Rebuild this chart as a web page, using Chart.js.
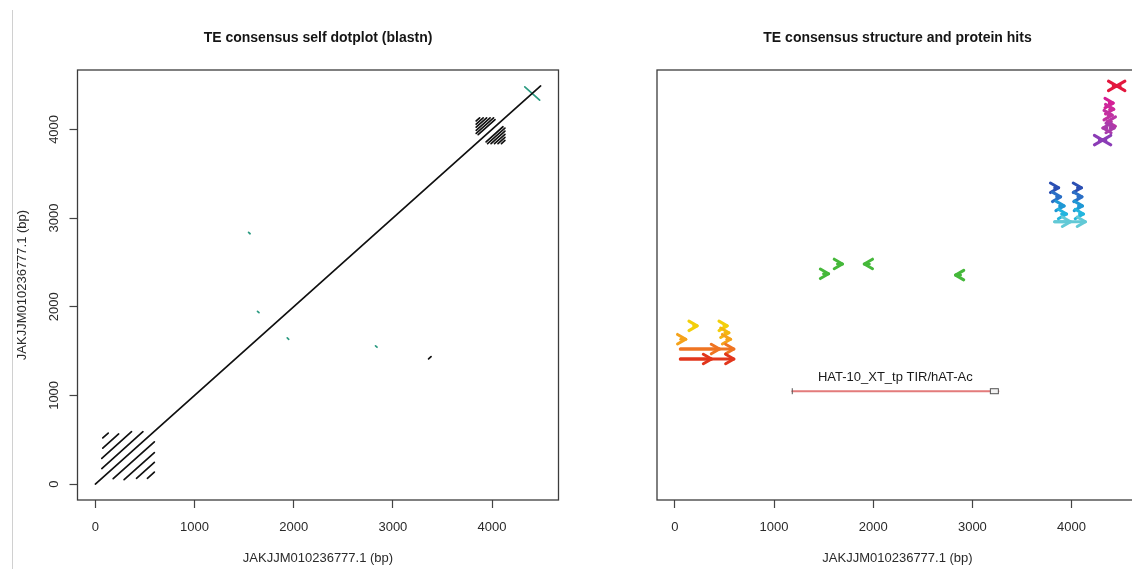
<!DOCTYPE html>
<html>
<head>
<meta charset="utf-8">
<script src="https://cdn.jsdelivr.net/npm/chart.js@4.4.1/dist/chart.umd.min.js"></script>
<style>
  html, body { margin: 0; padding: 0; background: #fff; overflow: hidden; }
  body { width: 1132px; height: 569px; position: relative; }
  #edge { position: absolute; left: 12px; top: 10px; width: 1px; height: 559px; background: #d0d0d0; }
  .panel { position: absolute; top: 0; height: 569px; }
  #left { left: 0; width: 566px; }
  #right { left: 566px; width: 620px; }
</style>
</head>
<body>
<div id="edge"></div>
<div class="panel" id="left"><canvas id="chartDot"></canvas></div>
<div class="panel" id="right"><canvas id="chartStruct"></canvas></div>
<script>
var xTicks = [0, 1000, 2000, 3000, 4000];
var yTicks = [0, 1000, 2000, 3000, 4000];
var axisMin = -180, axisMax = 4670;
var seqLabel = 'JAKJJM010236777.1 (bp)';

// blastn self hits, same strand: [qstart, qend, sstart, send]
var directHits = [
    [0, 4490, 0, 4490],
    [65, 480, 175, 590], [65, 365, 290, 590], [75, 235, 405, 565], [75, 130, 520, 575],
    [180, 595, 60, 475], [290, 595, 50, 355], [415, 595, 65, 245], [525, 595, 65, 135],
    [3860, 4030, 3940, 4110], [3840, 4015, 3955, 4130], [3840, 3980, 3990, 4130],
    [3840, 3945, 4025, 4130], [3840, 3910, 4060, 4130], [3840, 3875, 4095, 4130],
    [3940, 4110, 3860, 4030], [3955, 4130, 3840, 4015], [3990, 4130, 3840, 3980],
    [4025, 4130, 3840, 3945], [4060, 4130, 3840, 3910], [4095, 4130, 3840, 3875],
    [3360, 3385, 1412, 1437]
];
// blastn self hits, opposite strand
var reverseHits = [
    [4330, 4480, 4480, 4330],
    [1545, 1560, 2838, 2823], [1635, 1650, 1948, 1933],
    [1935, 1950, 1648, 1633], [2825, 2840, 1558, 1543]
];

// structure panel: repeat arrows [from, to, track]
var arrowHits = [
    [190, 225, 40.5], [495, 528, 40.5], [505, 545, 38.9], [60, 110, 37.4], [525, 562, 37.4],
    [55, 450, 35.1], [55, 595, 35.1], [55, 370, 32.8], [55, 595, 32.8],
    [1640, 1690, 54.9], [1500, 1550, 52.6], [1960, 1910, 54.9], [2880, 2830, 52.3],
    [3830, 3870, 72.6], [4060, 4100, 72.6], [3850, 3890, 70.5], [4065, 4105, 70.5],
    [3880, 3925, 68.4], [4070, 4110, 68.4], [3900, 3950, 66.5], [4080, 4120, 66.5],
    [3830, 3990, 64.7], [3830, 4140, 64.7],
    [4420, 4455, 96.3], [4490, 4455, 96.3],
    [4380, 4420, 92.3], [4385, 4425, 90.9], [4370, 4410, 89.5], [4400, 4360, 88.0],
    [4356, 4316, 86.5], [4390, 4430, 86.5],
    [4280, 4313, 83.7], [4346, 4313, 83.7]
];
var arrowColors = [
    '#f3cf0a', '#f3cf0a', '#f4b80f', '#f5a21a', '#f5a21a',
    '#ef7422', '#ef7422', '#e2361c', '#e2361c',
    '#45b83a', '#45b83a', '#45b83a', '#45b83a',
    '#2b4fb3', '#2b4fb3', '#2a6fc6', '#2a6fc6',
    '#1f98d5', '#1f98d5', '#22b5de', '#22b5de',
    '#62c9d6', '#62c9d6',
    '#e3173e', '#e3173e',
    '#d51f96', '#cc2a9c', '#c132a2', '#b837a6',
    '#a93cab', '#a93cab',
    '#8b3cb6', '#8b3cb6'
];

// protein hit
var proteinName = 'HAT-10_XT_tp TIR/hAT-Ac';
var proteinStart = 1184, proteinEnd = 3262, proteinTrack = 25.3;

var font = '"Liberation Sans", Arial, Helvetica, sans-serif';

function segment(h, color, width) {
    return {
        data: [{ x: h[0], y: h[2] }, { x: h[1], y: h[3] }],
        showLine: true,
        borderColor: color,
        borderWidth: width,
        pointRadius: 0,
        borderCapStyle: 'round'
    };
}

function fixedTicks(values) {
    return function (scale) {
        scale.ticks = values.map(function (v) { return { value: v }; });
    };
}

// R-style box, tick labels and titles
function frame(title, showY) {
    return {
        id: 'frame',
        afterDraw: function (chart) {
            var ctx = chart.ctx, a = chart.chartArea;
            var xs = chart.scales.x, ys = chart.scales.y;
            ctx.save();
            ctx.strokeStyle = '#3c3c3c';
            ctx.lineWidth = 1.3;
            ctx.strokeRect(a.left, a.top, a.right - a.left, a.bottom - a.top);

            ctx.fillStyle = '#151515';
            ctx.textAlign = 'center';
            ctx.textBaseline = 'middle';
            ctx.font = 'bold 14px ' + font;
            ctx.fillText(title, (a.left + a.right) / 2, 38);

            ctx.fillStyle = '#2a2a2a';
            ctx.font = '13px ' + font;
            xTicks.forEach(function (v) {
                ctx.fillText(String(v), xs.getPixelForValue(v), 527);
            });
            ctx.fillText(seqLabel, (a.left + a.right) / 2, 558);

            if (showY) {
                yTicks.forEach(function (v) {
                    ctx.save();
                    ctx.translate(54, ys.getPixelForValue(v));
                    ctx.rotate(-Math.PI / 2);
                    ctx.fillText(String(v), 0, 0);
                    ctx.restore();
                });
                ctx.save();
                ctx.translate(22, (a.top + a.bottom) / 2);
                ctx.rotate(-Math.PI / 2);
                ctx.fillText(seqLabel, 0, 0);
                ctx.restore();
            }
            ctx.restore();
        }
    };
}

var arrowHeads = {
    id: 'arrowHeads',
    afterDatasetsDraw: function (chart) {
        var ctx = chart.ctx;
        var len = 9.5, ang = 30 * Math.PI / 180;
        ctx.save();
        ctx.lineCap = 'round';
        ctx.lineJoin = 'round';
        chart.data.datasets.forEach(function (ds, i) {
            if (!ds.arrow) return;
            var pts = chart.getDatasetMeta(i).data;
            var p0 = pts[0], p1 = pts[1];
            var dir = p1.x >= p0.x ? 1 : -1;
            ctx.strokeStyle = ds.borderColor;
            ctx.lineWidth = ds.borderWidth;
            ctx.beginPath();
            ctx.moveTo(p1.x - dir * len * Math.cos(ang), p1.y - len * Math.sin(ang));
            ctx.lineTo(p1.x, p1.y);
            ctx.lineTo(p1.x - dir * len * Math.cos(ang), p1.y + len * Math.sin(ang));
            ctx.stroke();
        });
        ctx.restore();
    }
};

var proteinMark = {
    id: 'proteinMark',
    afterDatasetsDraw: function (chart) {
        var ctx = chart.ctx, xs = chart.scales.x, ys = chart.scales.y;
        var x0 = xs.getPixelForValue(proteinStart);
        var x1 = xs.getPixelForValue(proteinEnd);
        var y = ys.getPixelForValue(proteinTrack);
        ctx.save();
        ctx.strokeStyle = '#555';
        ctx.lineWidth = 1;
        ctx.beginPath();
        ctx.moveTo(x0, y - 3);
        ctx.lineTo(x0, y + 3);
        ctx.stroke();
        ctx.fillStyle = '#f2f2f2';
        ctx.fillRect(x1 - 8, y - 2.5, 8, 5);
        ctx.strokeRect(x1 - 8, y - 2.5, 8, 5);
        ctx.fillStyle = '#1a1a1a';
        ctx.font = '13px ' + font;
        ctx.textAlign = 'center';
        ctx.textBaseline = 'middle';
        ctx.fillText(proteinName, (x0 + x1) / 2, y - 14);
        ctx.restore();
    }
};

function baseX() {
    return {
        type: 'linear', min: axisMin, max: axisMax,
        afterBuildTicks: fixedTicks(xTicks),
        afterFit: function (s) { s.height = 69; },
        ticks: { display: false },
        border: { display: false },
        grid: { drawOnChartArea: false, drawTicks: true, tickLength: 8, tickColor: '#444', tickWidth: 1.2 }
    };
}

var dotSets = directHits.map(function (h) { return segment(h, '#111', 1.7); })
    .concat(reverseHits.map(function (h) { return segment(h, '#2a9a80', 1.7); }));

new Chart(document.getElementById('chartDot').getContext('2d'), {
    type: 'scatter',
    data: { datasets: dotSets },
    options: {
        animation: false,
        responsive: true,
        maintainAspectRatio: false,
        layout: { padding: { top: 70, left: 0, right: 7.5, bottom: 0 } },
        plugins: { legend: { display: false }, tooltip: { enabled: false } },
        scales: {
            x: baseX(),
            y: {
                type: 'linear', min: axisMin, max: axisMax,
                afterBuildTicks: fixedTicks(yTicks),
                afterFit: function (s) { s.width = 77.5; },
                ticks: { display: false },
                border: { display: false },
                grid: { drawOnChartArea: false, drawTicks: true, tickLength: 8, tickColor: '#444', tickWidth: 1.2 }
            }
        }
    },
    plugins: [frame('TE consensus self dotplot (blastn)', true)]
});

var structSets = arrowHits.map(function (h, i) {
    var ds = segment([h[0], h[1], h[2], h[2]], arrowColors[i], 3);
    ds.arrow = true;
    return ds;
});
structSets.unshift(segment([proteinStart, proteinEnd, proteinTrack, proteinTrack], '#e37b7b', 2));

new Chart(document.getElementById('chartStruct').getContext('2d'), {
    type: 'scatter',
    data: { datasets: structSets },
    options: {
        animation: false,
        responsive: true,
        maintainAspectRatio: false,
        layout: { padding: { top: 70, left: 91, right: 48, bottom: 0 } },
        plugins: { legend: { display: false }, tooltip: { enabled: false } },
        scales: {
            x: baseX(),
            y: { type: 'linear', min: 0, max: 100, display: false }
        }
    },
    plugins: [arrowHeads, proteinMark, frame('TE consensus structure and protein hits', false)]
});
</script>
</body>
</html>
